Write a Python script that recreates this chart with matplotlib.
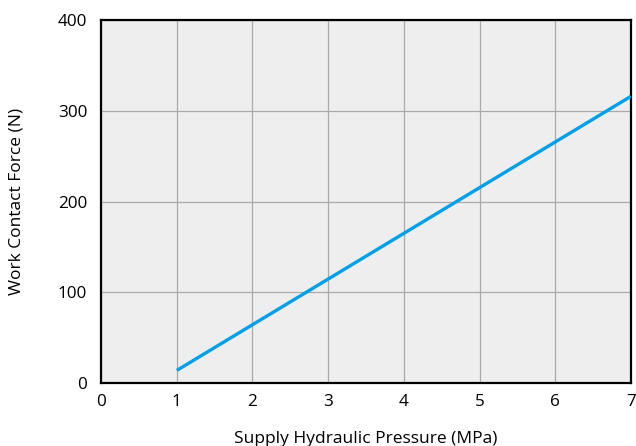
import numpy as np
import matplotlib.pyplot as plt

plt.rcParams['font.family'] = ['Open Sans', 'DejaVu Sans']

pressure = [1, 7]          # MPa
force = [14, 316]          # N
x_ticks = [0, 1, 2, 3, 4, 5, 6, 7]
y_ticks = [0, 100, 200, 300, 400]

fig = plt.figure(figsize=(6.36, 4.46), dpi=100)
ax = fig.add_axes([0.159, 0.141, 0.833, 0.814])
ax.set_facecolor('#eeeeee')

ax.plot(pressure, force, color='#00a0e9', lw=2.4, solid_capstyle='butt', zorder=3)

ax.set_xlim(0, 7)
ax.set_ylim(0, 400)
ax.set_xticks(x_ticks)
ax.set_yticks(y_ticks)
ax.grid(True, color='#aaaaaa', lw=0.9)
ax.set_axisbelow(True)
ax.tick_params(length=0, labelsize=12.3, pad=8)
ax.tick_params(axis='y', pad=10)

for s in ax.spines.values():
    s.set_linewidth(1.6)
    s.set_color('black')

ax.set_xlabel('Supply Hydraulic Pressure (MPa)', fontsize=12.5, labelpad=15)
ax.set_ylabel('Work Contact Force (N)', fontsize=12.5, labelpad=24)

fig.savefig('out.png', dpi=100)
